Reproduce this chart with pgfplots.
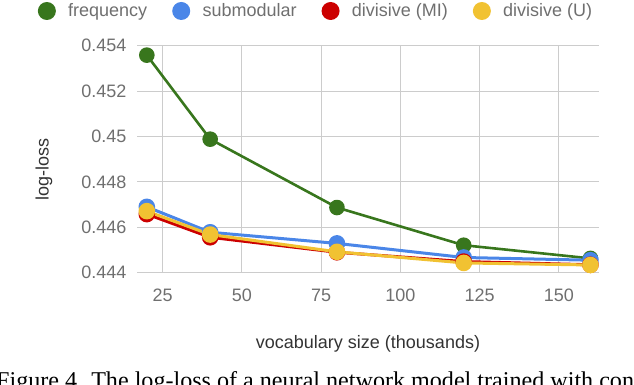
\documentclass[border=0pt]{standalone}
\usepackage{pgfplots}
\pgfplotsset{compat=1.18}
\usepackage{fontspec}
\setmainfont{Liberation Sans}
\newfontfamily\capfont{Liberation Serif}
\definecolor{cgreen}{HTML}{38761D}
\definecolor{cblue}{HTML}{4A86E8}
\definecolor{cred}{HTML}{CC0000}
\definecolor{cyellow}{HTML}{F1C232}
\definecolor{tickgray}{HTML}{6F6F6F}
\definecolor{labgray}{HTML}{333333}
\definecolor{gridgray}{HTML}{CCCCCC}
\begin{document}
\begin{tikzpicture}
\useasboundingbox (0,0) rectangle (634pt,384pt);
\begin{axis}[
  at={(137.3pt,111.3pt)}, anchor=south west,
  scale only axis, width=461.4pt, height=227.1pt,
  xmin=17, xmax=162.6, ymin=0.444, ymax=0.454,
  xtick={25,50,75,100,125,150},
  xticklabels={25,50,75,100,125,150},
  ytick={0.444,0.446,0.448,0.45,0.452,0.454},
  yticklabels={0.444,0.446,0.448,0.45,0.452,0.454},
  grid=major,
  major grid style={gridgray, line width=1pt},
  axis line style={draw=none},
  tick style={draw=none},
  ticklabel style={font=\fontsize{18}{20}\selectfont, text=tickgray},
  yticklabel style={inner sep=0pt, anchor=east, xshift=-10.6pt},
  xticklabel style={inner sep=0pt, anchor=north, yshift=-16pt},
  xlabel={vocabulary size (thousands)},
  ylabel={log-loss},
  label style={font=\fontsize{18}{20}\selectfont, text=labgray},
  xlabel style={at={(axis description cs:0.5,-0.3147)}, anchor=center},
  ylabel style={at={(axis description cs:-0.2022,0.4543)}, anchor=center},
  legend columns=4,
  legend style={at={(axis description cs:-0.2159,1.1524)}, anchor=west,
    draw=none, fill=none, inner sep=0pt,
    font=\fontsize{18}{20}\selectfont, text=tickgray,
    nodes={inner sep=0pt, anchor=west},
    /tikz/every odd column/.append style={column sep=12.3pt},
    /tikz/every even column/.append style={column sep=25pt}},
  legend image code/.code={\fill[#1, draw=none] (9pt,0) circle (9pt);},
  every axis plot/.append style={mark=*, line join=round},
]
\addplot[cgreen, line width=2.6pt, mark size=6.5pt] coordinates {
  (20,0.45358) (40,0.44988) (80,0.44687) (120,0.44521) (160,0.44463)};
\addlegendentry{frequency}
\addplot[cblue, line width=3pt, mark size=6.8pt] coordinates {
  (20,0.44690) (40,0.44578) (80,0.44529) (120,0.44467) (160,0.44455)};
\addlegendentry{submodular}
\addplot[cred, line width=3pt, mark size=6.8pt] coordinates {
  (20,0.44658) (40,0.44556) (80,0.44490) (120,0.44449) (160,0.44435)};
\addlegendentry{divisive (MI)}
\addplot[cyellow, line width=3pt, mark size=6.8pt] coordinates {
  (20,0.44671) (40,0.44568) (80,0.44492) (120,0.44443) (160,0.44434)};
\addlegendentry{divisive (U)}
\end{axis}
\node[anchor=base west, inner sep=0pt, font=\capfont\fontsize{24.1}{26}\selectfont] at (-4pt,-4pt)
  {Figure 4. The log-loss of a neural network model trained with constrained vocabularies};
\end{tikzpicture}
\end{document}
